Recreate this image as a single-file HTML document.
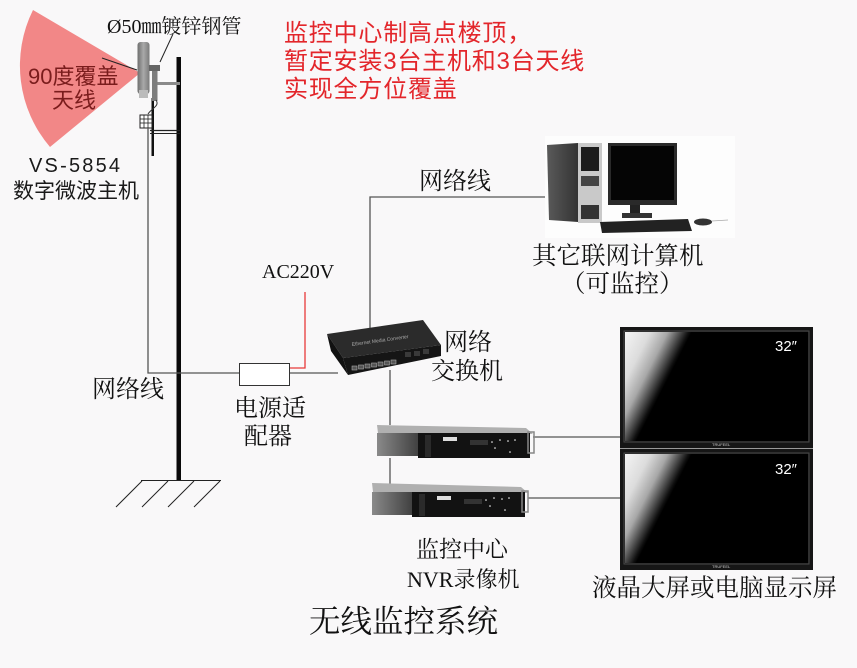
<!DOCTYPE html>
<html><head><meta charset="utf-8"><style>
html,body{margin:0;padding:0;background:#f9f8f9;}
svg{display:block;}
.s{font-family:"Liberation Serif","Noto Serif CJK SC",serif;fill:#111;}
.h{font-family:"Liberation Sans","Noto Sans CJK SC",sans-serif;}
</style></head><body>
<svg width="857" height="668" viewBox="0 0 857 668" xmlns="http://www.w3.org/2000/svg">
<defs>
<linearGradient id="scr" gradientUnits="userSpaceOnUse" x1="625" y1="332" x2="678" y2="359">
<stop offset="0" stop-color="#f4f4f4"/><stop offset="0.38" stop-color="#dcdcdc"/><stop offset="0.64" stop-color="#a8a8a8"/><stop offset="0.81" stop-color="#555"/><stop offset="0.95" stop-color="#111"/><stop offset="1" stop-color="#000"/></linearGradient>
<linearGradient id="scr2" gradientUnits="userSpaceOnUse" x1="625" y1="454" x2="678" y2="481">
<stop offset="0" stop-color="#f4f4f4"/><stop offset="0.38" stop-color="#dcdcdc"/><stop offset="0.64" stop-color="#a8a8a8"/><stop offset="0.81" stop-color="#555"/><stop offset="0.95" stop-color="#111"/><stop offset="1" stop-color="#000"/></linearGradient>
<linearGradient id="ant" x1="0" y1="0" x2="1" y2="0"><stop offset="0" stop-color="#6f6f6f"/><stop offset="0.5" stop-color="#a9a9a9"/><stop offset="1" stop-color="#7a7a7a"/></linearGradient>
<linearGradient id="side" x1="0" y1="0" x2="1" y2="0"><stop offset="0" stop-color="#8a8a8a"/><stop offset="1" stop-color="#3f3f3f"/></linearGradient>
<linearGradient id="tower" x1="0" y1="0" x2="1" y2="0"><stop offset="0" stop-color="#5a5a5a"/><stop offset="1" stop-color="#333"/></linearGradient>
</defs>

<!-- fan -->
<path d="M140,73 L33,10 A125,125 0 0,0 50,147 Z" fill="#f28787"/>
<line x1="102" y1="58" x2="137" y2="70" stroke="#222" stroke-width="1"/>

<!-- poles -->
<rect x="176.5" y="57" width="4.5" height="424" fill="#0a0a0a"/>
<rect x="151.5" y="98" width="2.5" height="58" fill="#111"/>
<rect x="157" y="82" width="23" height="3" fill="#8a8a8a"/>
<line x1="150" y1="130.5" x2="180" y2="130.5" stroke="#222" stroke-width="1.2"/>
<line x1="150" y1="133.5" x2="180" y2="133.5" stroke="#222" stroke-width="1"/>
<!-- antenna -->
<rect x="137.5" y="42" width="12" height="52" rx="3" fill="url(#ant)"/>
<rect x="139" y="90" width="9" height="8" fill="#bbb"/>
<rect x="149" y="65" width="11" height="6" fill="#666"/>
<rect x="152" y="71" width="5.5" height="30" fill="#7d7d7d"/>
<path d="M156,100 C160,106 152,108 148,114" stroke="#333" stroke-width="1" fill="none"/>
<!-- protector box -->
<rect x="140" y="115" width="12" height="13" fill="#fff" stroke="#222" stroke-width="1"/>
<line x1="140" y1="119" x2="152" y2="119" stroke="#222" stroke-width="0.8"/>
<line x1="140" y1="123" x2="152" y2="123" stroke="#222" stroke-width="0.8"/>
<line x1="144" y1="115" x2="144" y2="128" stroke="#222" stroke-width="0.8"/>
<line x1="148" y1="115" x2="148" y2="128" stroke="#222" stroke-width="0.8"/>
<line x1="173" y1="34" x2="160" y2="62" stroke="#222" stroke-width="1"/>

<!-- ground -->
<line x1="141" y1="480.5" x2="221" y2="480.5" stroke="#222" stroke-width="1"/>
<g stroke="#222" stroke-width="1">
<line x1="142" y1="481" x2="116" y2="507"/>
<line x1="168" y1="481" x2="142" y2="507"/>
<line x1="194" y1="481" x2="168" y2="507"/>
<line x1="220" y1="481" x2="194" y2="507"/>
</g>

<!-- cables -->
<g stroke="#555" stroke-width="1.3" fill="none">
<polyline points="148,128 148,373 239,373"/>
<line x1="290" y1="373" x2="338" y2="373"/>
<polyline points="370,336 370,197 548,197"/>
<line x1="390" y1="370" x2="390" y2="425"/>
<line x1="390" y1="458" x2="390" y2="484"/>
<line x1="533" y1="437" x2="625" y2="437"/>
<line x1="528" y1="498" x2="622" y2="498"/>
</g>
<polyline points="290,368 305,368 305,292" stroke="#e83a3a" stroke-width="1.3" fill="none"/>
<rect x="239.5" y="363.5" width="50" height="22" fill="#fff" stroke="#333" stroke-width="1"/>

<!-- switch -->
<polygon points="327,334 423,320 441,345 343,358" fill="#2b2b2b"/>
<polygon points="327,334 343,358 348,375 331,351" fill="#111"/>
<polygon points="343,358 441,345 441,356 348,375" fill="#151515"/>
<text x="352" y="346" font-size="5" fill="#aaa" font-family="Liberation Sans" transform="rotate(-8 352 346)">Ethernet Media Converter</text>
<g fill="#555" stroke="#aaa" stroke-width="0.6">
<rect x="352" y="366" width="5" height="4"/><rect x="358.5" y="365" width="5" height="4"/><rect x="365" y="364" width="5" height="4"/><rect x="371.5" y="363" width="5" height="4"/><rect x="378" y="362" width="5" height="4"/><rect x="384.5" y="361" width="5" height="4"/><rect x="391" y="360" width="5" height="4"/>
</g>
<g fill="#3a3a3a"><rect x="405" y="352" width="6" height="5"/><rect x="414" y="351" width="6" height="5"/><rect x="423" y="349" width="6" height="5"/></g>

<!-- NVR 1 -->
<polygon points="377,425 526,428 533,434 378,433" fill="#b0b0b0"/>
<rect x="377" y="433" width="42" height="23" fill="url(#side)"/>
<rect x="418" y="433" width="112" height="25" fill="#121212"/>
<rect x="425" y="435" width="6" height="22" fill="#2a2a2a"/>
<rect x="443" y="437" width="14" height="4" fill="#ddd"/>
<rect x="470" y="440" width="18" height="5" fill="#333"/>
<g fill="#fff"><circle cx="492" cy="442" r="0.8"/><circle cx="500" cy="440" r="0.8"/><circle cx="508" cy="441" r="0.8"/><circle cx="515" cy="440" r="0.8"/><circle cx="495" cy="448" r="0.8"/><circle cx="510" cy="452" r="0.8"/></g>
<rect x="528" y="432" width="6" height="21" fill="none" stroke="#888" stroke-width="1.5"/>
<!-- NVR 2 -->
<polygon points="372,483 521,487 528,493 373,492" fill="#b0b0b0"/>
<rect x="372" y="492" width="41" height="23" fill="url(#side)"/>
<rect x="412" y="492" width="113" height="25" fill="#121212"/>
<rect x="419" y="494" width="6" height="22" fill="#2a2a2a"/>
<rect x="437" y="496" width="14" height="4" fill="#ddd"/>
<rect x="464" y="499" width="18" height="5" fill="#333"/>
<g fill="#fff"><circle cx="486" cy="500" r="0.8"/><circle cx="494" cy="498" r="0.8"/><circle cx="502" cy="499" r="0.8"/><circle cx="509" cy="498" r="0.8"/><circle cx="490" cy="506" r="0.8"/><circle cx="505" cy="510" r="0.8"/></g>
<rect x="522" y="491" width="6" height="21" fill="none" stroke="#888" stroke-width="1.5"/>

<!-- computer -->
<rect x="545" y="136" width="190" height="102" fill="#fdfdfd"/>
<polygon points="547,145 578,143 578,222 549,220" fill="url(#tower)"/>
<rect x="578" y="143" width="24" height="80" fill="#c9c9c9"/>
<rect x="581" y="147" width="18" height="24" fill="#1c1c1c"/>
<rect x="581" y="176" width="18" height="10" fill="#444"/>
<rect x="581" y="205" width="18" height="14" fill="#333"/>
<rect x="608" y="143" width="69" height="62" fill="#2a2a2a"/>
<rect x="611" y="146" width="63" height="54" fill="#050505"/>
<rect x="630" y="205" width="10" height="10" fill="#222"/>
<rect x="622" y="213" width="30" height="5" fill="#333"/>
<polygon points="600,222 688,219 692,231 602,233" fill="#222"/>
<ellipse cx="703" cy="222" rx="9" ry="3.5" fill="#333"/>
<line x1="712" y1="221" x2="728" y2="220" stroke="#aaa" stroke-width="0.8"/>

<!-- monitors -->
<rect x="620" y="327" width="193" height="121" fill="#161616"/>
<rect x="624" y="331" width="185" height="111" fill="none" stroke="#4a4a4a" stroke-width="1"/>
<rect x="625" y="332" width="183" height="109" fill="url(#scr)"/>
<text x="775" y="351" font-size="15" fill="#fff" font-family="Liberation Sans, sans-serif">32″</text>
<text x="712" y="446" font-size="4" fill="#ccc" font-family="Liberation Sans, sans-serif">TRUFEEL</text>
<line x1="620" y1="448.5" x2="813" y2="448.5" stroke="#999" stroke-width="1"/>
<rect x="620" y="449" width="193" height="121" fill="#161616"/>
<rect x="624" y="453" width="185" height="111" fill="none" stroke="#4a4a4a" stroke-width="1"/>
<rect x="625" y="454" width="183" height="109" fill="url(#scr2)"/>
<text x="775" y="474" font-size="15" fill="#fff" font-family="Liberation Sans, sans-serif">32″</text>
<text x="712" y="568" font-size="4" fill="#ccc" font-family="Liberation Sans, sans-serif">TRUFEEL</text>

<!-- texts -->
<text class="s" x="107" y="33" font-size="20">Ø50㎜镀锌钢管</text>
<text class="h" x="28" y="84" font-size="22" fill="#7a1c1c">90度覆盖</text>
<text class="h" x="52" y="108" font-size="22" fill="#7a1c1c">天线</text>
<text class="h" x="29" y="172" font-size="20" letter-spacing="2.2" fill="#1a1a1a">VS-5854</text>
<text class="h" x="13" y="198" font-size="21" fill="#1a1a1a">数字微波主机</text>
<g class="h" font-size="24" fill="#e3262b" letter-spacing="0.8">
<text x="284" y="41">监控中心制高点楼顶，</text>
<text x="284" y="69">暂定安装3台主机和3台天线</text>
<text x="284" y="97">实现全方位覆盖</text>
</g>
<text class="s" x="419" y="189" font-size="24">网络线</text>
<text class="s" x="532" y="264" font-size="24.5">其它联网计算机</text>
<text class="s" x="561" y="292" font-size="24.5">（可监控）</text>
<text class="s" x="262" y="278" font-size="20">AC220V</text>
<text class="s" x="92" y="397" font-size="24">网络线</text>
<text class="s" x="234" y="416" font-size="24">电源适</text>
<text class="s" x="244" y="444" font-size="24">配器</text>
<text class="s" x="444" y="350" font-size="24">网络</text>
<text class="s" x="431" y="379" font-size="24">交换机</text>
<text class="s" x="416" y="557" font-size="23">监控中心</text>
<text class="s" x="407" y="587" font-size="22">NVR录像机</text>
<text class="s" x="309" y="632" font-size="31.5">无线监控系统</text>
<text class="s" x="592" y="596" font-size="24.5">液晶大屏或电脑显示屏</text>
</svg>
</body></html>
